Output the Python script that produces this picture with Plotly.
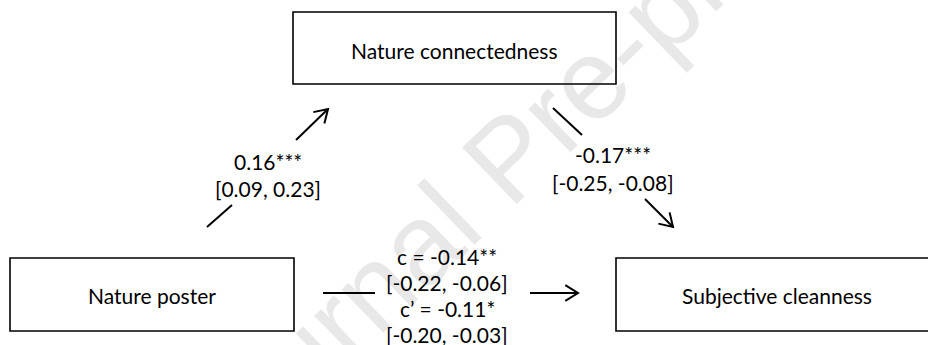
import math
import plotly.graph_objects as go

# ---- content ----
node_names = ["Nature connectedness", "Nature poster", "Subjective cleanness"]
a_path = ["0.16***", "[0.09, 0.23]"]
b_path = ["-0.17***", "[-0.25, -0.08]"]
c_path = ["c = -0.14**", "[-0.22, -0.06]", "c\u2019 = -0.11*", "[-0.20, -0.03]"]
watermark = "Journal Pre-proof"

# ---- layout geometry (pixels, y downward) ----
boxes = [(293, 12, 616, 84), (10, 258, 294, 331), (616, 258, 938, 331)]
box_label_pos = [(454, 50), (152, 295), (777, 295)]
# each path: plain tail segment, then arrow segment (tail -> head)
segments = {
    "a": [((207, 227), (232, 205)), ((296, 140), (328, 109))],
    "b": [((553, 108), (582, 135)), ((645, 199), (673, 227))],
    "c": [((323, 293), (375, 293)), ((530, 293), (578, 293))],
}
label_pos = {
    "a": (268, [161, 188]),
    "b": (613, [154, 182]),
    "c": (447, [256, 282, 308, 334]),
}

FONT = "Lato"
FS = 21
W, H = 928, 345

fig = go.Figure()

# watermark (behind everything)
wx, wy = 500, 150
fig.add_shape(type="rect", x0=wx - 5, x1=wx + 5, y0=wy - 5, y1=wy + 5, xref="x", yref="y",
              line=dict(width=0), fillcolor="rgba(0,0,0,0)", layer="below",
              label=dict(text=watermark, textangle=-44,
                         font=dict(family="Liberation Sans", size=114, color="#e8e8e8")))

# boxes
for (x0, y0, x1, y1) in boxes:
    fig.add_shape(type="rect", x0=x0, y0=y0, x1=x1, y1=y1, xref="x", yref="y",
                  line=dict(color="black", width=1.6), fillcolor="rgba(0,0,0,0)", layer="above")

# lines and arrows
def add_line(xs, ys):
    fig.add_trace(go.Scatter(x=xs, y=ys, mode="lines",
                             line=dict(color="black", width=2), hoverinfo="skip"))

for key, segs in segments.items():
    (p0, p1), (q0, q1) = segs
    add_line([p0[0], p1[0]], [p0[1], p1[1]])
    add_line([q0[0], q1[0]], [q0[1], q1[1]])
    ang = math.atan2(q1[1] - q0[1], q1[0] - q0[0])
    L, half = 15, math.radians(32)
    w1 = (q1[0] - L * math.cos(ang - half), q1[1] - L * math.sin(ang - half))
    w2 = (q1[0] - L * math.cos(ang + half), q1[1] - L * math.sin(ang + half))
    add_line([w1[0], q1[0], w2[0]], [w1[1], q1[1], w2[1]])

# node labels
for name, (x, y) in zip(node_names, box_label_pos):
    fig.add_annotation(x=x, y=y, text=name, showarrow=False,
                       font=dict(family=FONT, size=FS, color="black"))

# path labels
for key, lines in (("a", a_path), ("b", b_path), ("c", c_path)):
    x, ys = label_pos[key]
    for t, y in zip(lines, ys):
        fig.add_annotation(x=x, y=y, text=t, showarrow=False,
                           font=dict(family=FONT, size=FS, color="black"))

fig.update_layout(
    width=W, height=H, margin=dict(l=0, r=0, t=0, b=0),
    paper_bgcolor="white", plot_bgcolor="white", showlegend=False,
    xaxis=dict(range=[0, W], visible=False, fixedrange=True),
    yaxis=dict(range=[H, 0], visible=False, fixedrange=True),
)
fig.write_html("out.html", config={"displayModeBar": False})

# remove the default page margin so the figure sits at the window's corner
with open("out.html", encoding="utf-8") as f:
    html = f.read()
html = html.replace("<body>", '<body style="margin:0;overflow:hidden">', 1)
with open("out.html", "w", encoding="utf-8") as f:
    f.write(html)
